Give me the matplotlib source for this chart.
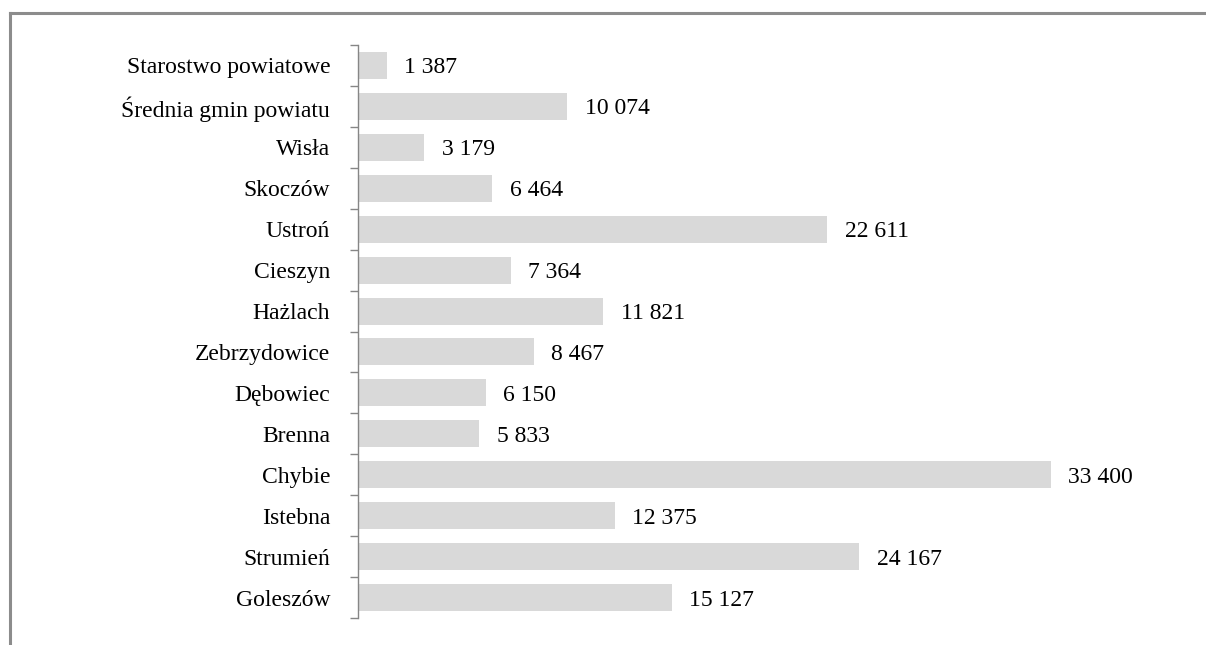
import matplotlib
matplotlib.use("Agg")
import matplotlib.pyplot as plt
from matplotlib.lines import Line2D
from matplotlib.ticker import FixedLocator, NullFormatter

# data, top to bottom as in the chart
categories = [
    "Starostwo powiatowe", "Średnia gmin powiatu", "Wisła", "Skoczów",
    "Ustroń", "Cieszyn", "Hażlach", "Zebrzydowice", "Dębowiec", "Brenna",
    "Chybie", "Istebna", "Strumień", "Goleszów",
]
values = [1387, 10074, 3179, 6464, 22611, 7364, 11821, 8467, 6150, 5833,
          33400, 12375, 24167, 15127]

BAR = "#d9d9d9"
AXIS = "#868686"
FONT = "Liberation Serif"

plt.rcParams.update({
    "font.family": FONT,
    "font.size": 17,
})

W, H = 1206, 645
fig = plt.figure(figsize=(W / 100, H / 100), dpi=100)
fig.patch.set_facecolor("white")

# frame round the chart (only top and left visible)
fig.add_artist(Line2D([10 / W, 1.0], [1 - 13 / H, 1 - 13 / H], color="#8c8c8c",
                      lw=2.2, transform=fig.transFigure))
fig.add_artist(Line2D([10 / W, 10 / W], [0.0, 1 - 13 / H], color="#8c8c8c",
                      lw=2.2, transform=fig.transFigure))

ax = fig.add_axes([358 / W, 27 / H, 788 / W, 573 / H])

y = range(len(categories))
ax.barh(y, values, height=0.66, color=BAR, edgecolor="none", zorder=2)

for i, v in enumerate(values):
    ax.text(v + 850, i, f"{v:,}".replace(",", " "), va="center_baseline",
            ha="left", fontsize=17, color="black")

ax.set_xlim(0, 38000)
ax.set_ylim(len(categories) - 0.5, -0.5)

for s in ("top", "right", "bottom"):
    ax.spines[s].set_visible(False)
ax.spines["left"].set_color(AXIS)
ax.spines["left"].set_linewidth(1)
ax.set_xticks([])

# labels at bar centres, ticks at category boundaries
ax.set_yticks(list(y))
ax.set_yticklabels(categories, fontsize=17, va="center_baseline")
ax.tick_params(axis="y", which="major", length=0, pad=20)
ax.yaxis.set_minor_locator(FixedLocator([i - 0.5 for i in range(len(categories) + 1)]))
ax.yaxis.set_minor_formatter(NullFormatter())
ax.tick_params(axis="y", which="minor", length=6, color=AXIS, width=1)

fig.savefig("out.png", dpi=100, facecolor="white")
